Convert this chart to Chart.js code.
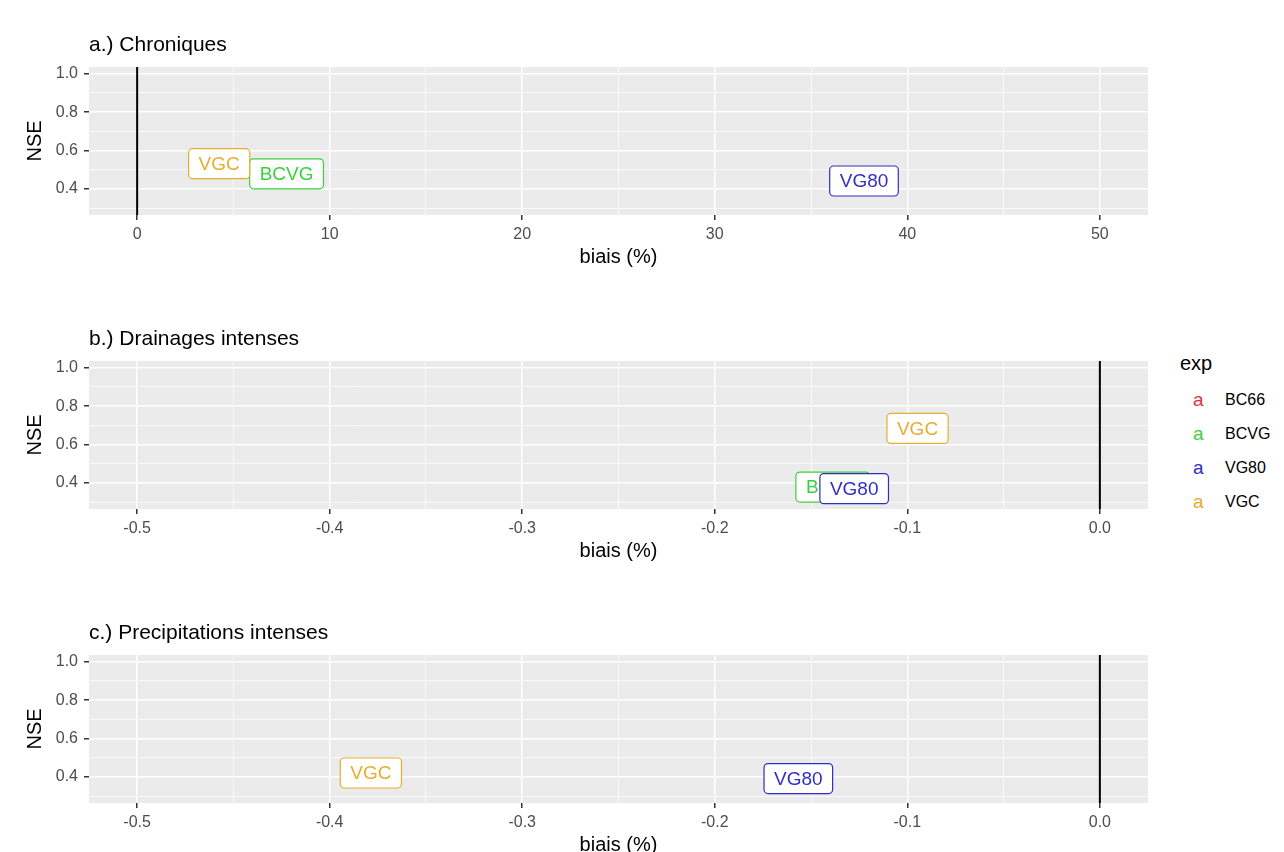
<!DOCTYPE html>
<html lang="fr">
<head>
  <meta charset="UTF-8">
  <title>NSE / biais par expérience</title>
  <script src="https://cdn.jsdelivr.net/npm/chart.js"></script>
  <style>
    body {
      margin: 0;
      background: #fff;
      font-family: "Liberation Sans", Arial, sans-serif;
    }
    #wrap {
      position: relative;
      width: 1284px;
      height: 852px;
    }
    #wrap canvas {
      position: absolute;
      left: 0;
    }
    .leg {
      position: absolute;
      white-space: nowrap;
      line-height: 1;
    }
    .leg-title { left: 1180px; top: 353px; font-size: 20px; color: #000; }
    .leg-key { left: 1193px; font-size: 19px; }
    .leg-text { left: 1225px; font-size: 16px; color: #000; }
  </style>
</head>
<body>
  <div id="wrap">
    <canvas id="panelA" width="1160" height="260" style="top:20px"></canvas>
    <canvas id="panelB" width="1160" height="260" style="top:314px"></canvas>
    <canvas id="panelC" width="1160" height="260" style="top:608px"></canvas>
    <div id="legend"></div>
  </div>

  <script>
    // experiments (legend order)
    const experiments = ['BC66', 'BCVG', 'VG80', 'VGC'];
    const expColours = ['#E5353B', '#3CCF3C', '#2F2FC4', '#E8AC2E'];

    // a.) Chroniques
    const chroniquesBiais = [null, 7.76, 37.75, 4.26];
    const chroniquesNSE = [null, 0.479, 0.442, 0.532];

    // b.) Drainages intenses
    const drainagesBiais = [null, -0.1387, -0.1276, -0.0947];
    const drainagesNSE = [null, 0.379, 0.371, 0.684];

    // c.) Precipitations intenses
    const precipBiais = [null, null, -0.1566, -0.3786];
    const precipNSE = [null, null, 0.392, 0.421];

    // axis ticks
    const nseMajor = [0.4, 0.6, 0.8, 1.0];
    const nseMinor = [0.3, 0.5, 0.7, 0.9];
    const chroniquesMajor = [0, 10, 20, 30, 40, 50];
    const chroniquesMinor = [5, 15, 25, 35, 45];
    const intensesMajor = [-0.5, -0.4, -0.3, -0.2, -0.1, 0.0];
    const intensesMinor = [-0.45, -0.35, -0.25, -0.15, -0.05];

    const NSE_MIN = 0.265, NSE_MAX = 1.035;
    const FONT = '"Liberation Sans", Arial, sans-serif';

    const isIn = (list, v) => list.some(m => Math.abs(m - v) < 1e-9);

    const panelBg = {
      id: 'panelBg',
      beforeDraw(chart) {
        const a = chart.chartArea;
        chart.ctx.save();
        chart.ctx.fillStyle = '#EBEBEB';
        chart.ctx.fillRect(a.left, a.top, a.right - a.left, a.bottom - a.top);
        chart.ctx.restore();
      }
    };

    const panelTitle = {
      id: 'panelTitle',
      afterDraw(chart, args, opts) {
        const ctx = chart.ctx;
        ctx.save();
        ctx.font = '21px ' + FONT;
        ctx.fillStyle = '#000';
        ctx.textAlign = 'left';
        ctx.textBaseline = 'alphabetic';
        ctx.fillText(opts.text, chart.chartArea.left, chart.chartArea.top - 16);
        ctx.restore();
      }
    };

    // ggplot-like geom_label boxes
    const expLabels = {
      id: 'expLabels',
      afterDatasetsDraw(chart) {
        const ctx = chart.ctx;
        ctx.save();
        ctx.font = '19px ' + FONT;
        ctx.textAlign = 'center';
        ctx.textBaseline = 'middle';
        chart.data.datasets.forEach((ds, i) => {
          if (!ds.isLabel) return;
          const meta = chart.getDatasetMeta(i);
          meta.data.forEach(pt => {
            const w = ctx.measureText(ds.label).width + 20;
            const h = 30;
            const x = pt.x - w / 2, y = pt.y - h / 2;
            ctx.beginPath();
            ctx.roundRect(x, y, w, h, 4);
            ctx.fillStyle = '#fff';
            ctx.fill();
            ctx.lineWidth = 1.2;
            ctx.strokeStyle = ds.borderColor;
            ctx.stroke();
            ctx.fillStyle = ds.borderColor;
            ctx.fillText(ds.label, pt.x, pt.y + 1);
          });
        });
        ctx.restore();
      }
    };

    function makePanel(id, title, biais, nse, xMin, xMax, xMajor, xMinor, fmt) {
      const datasets = [{
        label: 'zero',
        data: [{ x: 0, y: NSE_MIN }, { x: 0, y: NSE_MAX }],
        showLine: true,
        borderColor: '#000',
        borderWidth: 2,
        pointRadius: 0
      }];
      experiments.forEach((name, i) => {
        if (biais[i] === null) return;
        datasets.push({
          label: name,
          isLabel: true,
          data: [{ x: biais[i], y: nse[i] }],
          borderColor: expColours[i],
          pointRadius: 0
        });
      });

      const xTicks = xMajor.concat(xMinor).sort((a, b) => a - b);
      const yTicks = nseMajor.concat(nseMinor).sort((a, b) => a - b);

      const gridFor = major => ({
        color: '#FFFFFF',
        lineWidth: c => (c.tick && isIn(major, c.tick.value)) ? 1.5 : 0.7,
        tickColor: c => (c.tick && isIn(major, c.tick.value)) ? '#333333' : 'rgba(0,0,0,0)',
        tickWidth: 1.5,
        tickLength: 5
      });

      new Chart(document.getElementById(id), {
        type: 'scatter',
        data: { datasets: datasets },
        plugins: [panelBg, panelTitle, expLabels],
        options: {
          responsive: false,
          animation: false,
          layout: { padding: { top: 47, right: 12, left: 0, bottom: 0 } },
          plugins: {
            legend: { display: false },
            tooltip: { enabled: false },
            panelTitle: { text: title }
          },
          scales: {
            x: {
              type: 'linear',
              min: xMin,
              max: xMax,
              afterBuildTicks: s => { s.ticks = xTicks.map(v => ({ value: v })); },
              afterFit: s => { s.height = 65; },
              grid: gridFor(xMajor),
              border: { display: false },
              ticks: {
                autoSkip: false,
                maxRotation: 0,
                padding: 5,
                color: '#4D4D4D',
                font: { family: FONT, size: 16 },
                callback: v => isIn(xMajor, v) ? fmt(v) : ''
              },
              title: {
                display: true,
                text: 'biais (%)',
                color: '#000',
                font: { family: FONT, size: 20 },
                padding: { top: 0, bottom: 11 }
              }
            },
            y: {
              type: 'linear',
              min: NSE_MIN,
              max: NSE_MAX,
              afterBuildTicks: s => { s.ticks = yTicks.map(v => ({ value: v })); },
              afterFit: s => { s.width = 89; },
              grid: gridFor(nseMajor),
              border: { display: false },
              ticks: {
                autoSkip: false,
                padding: 6,
                color: '#4D4D4D',
                font: { family: FONT, size: 16 },
                callback: v => isIn(nseMajor, v) ? v.toFixed(1) : ''
              },
              title: {
                display: true,
                text: 'NSE',
                color: '#000',
                font: { family: FONT, size: 20 },
                padding: { top: 23, bottom: 0 }
              }
            }
          }
        }
      });
    }

    makePanel('panelA', 'a.) Chroniques', chroniquesBiais, chroniquesNSE,
      -2.5, 52.5, chroniquesMajor, chroniquesMinor, v => String(v));
    makePanel('panelB', 'b.) Drainages intenses', drainagesBiais, drainagesNSE,
      -0.525, 0.025, intensesMajor, intensesMinor, v => v.toFixed(1));
    makePanel('panelC', 'c.) Precipitations intenses', precipBiais, precipNSE,
      -0.525, 0.025, intensesMajor, intensesMinor, v => v.toFixed(1));

    // legend "exp"
    const legend = document.getElementById('legend');
    let html = '<div class="leg leg-title">exp</div>';
    experiments.forEach((name, i) => {
      const top = 392 + i * 34;
      html += `<div class="leg leg-key" style="top:${top - 2}px;color:${expColours[i]}">a</div>`;
      html += `<div class="leg leg-text" style="top:${top}px">${name}</div>`;
    });
    legend.innerHTML = html;
  </script>
</body>
</html>
